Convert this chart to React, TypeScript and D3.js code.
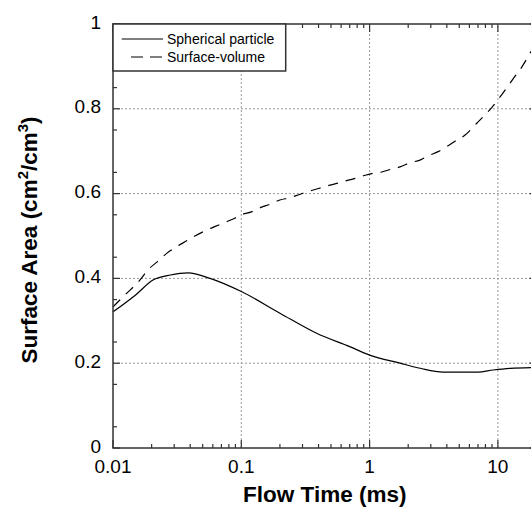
import React from "react";
import * as d3 from "d3";

const sphericalTime = [0.01, 0.015, 0.0205, 0.028, 0.0385, 0.057, 0.1, 0.2, 0.39, 0.7, 1, 1.73, 2.48, 3.74, 7, 9.2, 12.5, 20];
const sphericalArea = [0.321, 0.361, 0.396, 0.408, 0.413, 0.4, 0.369, 0.318, 0.27, 0.239, 0.219, 0.2, 0.188, 0.179, 0.179, 0.184, 0.188, 0.19];

const surfaceTime = [0.01, 0.0125, 0.016, 0.019, 0.0221, 0.0262, 0.0314, 0.0372, 0.0435, 0.052, 0.062, 0.077, 0.089, 0.1, 0.12, 0.144, 0.168, 0.2, 0.237, 0.284, 0.333, 0.4, 0.464, 0.555, 0.652, 0.77, 0.895, 1.06, 1.245, 1.49, 1.73, 2.07, 2.47, 2.86, 3.42, 4.0, 4.78, 5.55, 6.85, 7.27, 8.96, 10.7, 13.1, 15.4, 17.8, 20];
const surfaceArea = [0.333, 0.362, 0.394, 0.422, 0.439, 0.459, 0.475, 0.488, 0.5, 0.512, 0.522, 0.534, 0.542, 0.55, 0.557, 0.568, 0.575, 0.585, 0.59, 0.598, 0.605, 0.612, 0.618, 0.624, 0.63, 0.636, 0.642, 0.648, 0.651, 0.658, 0.663, 0.673, 0.679, 0.689, 0.699, 0.711, 0.726, 0.738, 0.766, 0.774, 0.803, 0.833, 0.87, 0.899, 0.931, 0.956];

const xMajorTicks = [0.01, 0.1, 1, 10];
const xTickLabels = ["0.01", "0.1", "1", "10"];
const yMajorTicks = [0, 0.2, 0.4, 0.6, 0.8, 1];
const yTickLabels = ["0", "0.2", "0.4", "0.6", "0.8", "1"];
const seriesNames = ["Spherical particle", "Surface-volume"];

const W = 531;
const H = 508;
const L = 113, R = 536.5, T = 24, B = 448;
const FONT = "'Liberation Sans', Arial, sans-serif";
const AXIS = "#333";

export default function App() {
  const x = d3.scaleLog().domain([0.01, 20]).range([L, R]);
  const y = d3.scaleLinear().domain([0, 1]).range([B, T]);

  const line = d3
    .line<[number, number]>()
    .x((d) => x(d[0]))
    .y((d) => y(d[1]))
    .curve(d3.curveMonotoneX);

  const sph = line(sphericalTime.map((t, i) => [t, sphericalArea[i]] as [number, number])) || "";
  const sur = line(surfaceTime.map((t, i) => [t, surfaceArea[i]] as [number, number])) || "";

  const xMinor: number[] = [];
  for (const dec of [0.01, 0.1, 1, 10]) {
    for (let k = 2; k <= 9; k++) {
      const v = dec * k;
      if (v <= 20) xMinor.push(v);
    }
  }
  const yMinor = d3.range(0.05, 1, 0.1).map((v) => +v.toFixed(2));

  return (
    <svg width={W} height={H} style={{ position: "absolute", left: 0, top: 0, background: "#fff" }}>
      <rect x={0} y={0} width={W} height={H} fill="#fff" />
      {xMajorTicks.slice(1).map((v) => (
        <line key={"gx" + v} x1={x(v)} x2={x(v)} y1={B} y2={T} stroke="#999" strokeDasharray="2,2" strokeWidth={1} />
      ))}
      {yMajorTicks.slice(1, 5).map((v) => (
        <line key={"gy" + v} x1={L} x2={R} y1={y(v)} y2={y(v)} stroke="#999" strokeDasharray="2,2" strokeWidth={1} />
      ))}
      <path d={sph} fill="none" stroke="#000" strokeWidth={1.2} />
      <path d={sur} fill="none" stroke="#000" strokeWidth={1.2} strokeDasharray="10,8" />
      {xMajorTicks.map((v) => (
        <g key={"xt" + v}>
          <line x1={x(v)} x2={x(v)} y1={B} y2={B - 8} stroke={AXIS} strokeWidth={1.2} />
          <line x1={x(v)} x2={x(v)} y1={T} y2={T + 8} stroke={AXIS} strokeWidth={1.2} />
        </g>
      ))}
      {xMinor.map((v) => (
        <g key={"xm" + v}>
          <line x1={x(v)} x2={x(v)} y1={B} y2={B - 4} stroke={AXIS} strokeWidth={1.2} />
          <line x1={x(v)} x2={x(v)} y1={T} y2={T + 4} stroke={AXIS} strokeWidth={1.2} />
        </g>
      ))}
      {yMajorTicks.map((v) => (
        <g key={"yt" + v}>
          <line x1={L} x2={L + 7} y1={y(v)} y2={y(v)} stroke={AXIS} strokeWidth={1.2} />
          <line x1={R} x2={R - 7} y1={y(v)} y2={y(v)} stroke={AXIS} strokeWidth={1.2} />
        </g>
      ))}
      {yMinor.map((v) => (
        <g key={"ym" + v}>
          <line x1={L} x2={L + 4} y1={y(v)} y2={y(v)} stroke={AXIS} strokeWidth={1.2} />
          <line x1={R} x2={R - 4} y1={y(v)} y2={y(v)} stroke={AXIS} strokeWidth={1.2} />
        </g>
      ))}
      <rect x={L} y={T} width={R - L} height={B - T} fill="none" stroke={AXIS} strokeWidth={1.5} />
      {xMajorTicks.map((v, i) => (
        <text key={"xl" + v} x={x(v)} y={B + 24.7} textAnchor="middle" fontFamily={FONT} fontSize={19} fill="#000">
          {xTickLabels[i]}
        </text>
      ))}
      {yMajorTicks.map((v, i) => (
        <text key={"yl" + v} x={L - 12} y={y(v) + 4.5} textAnchor="end" fontFamily={FONT} fontSize={19} fill="#000">
          {yTickLabels[i]}
        </text>
      ))}
      <rect x={L} y={T} width={285.7 - L} height={71 - T} fill="#fff" stroke={AXIS} strokeWidth={1.5} />
      <line x1={121.7} x2={163} y1={39} y2={39} stroke="#000" strokeWidth={1.2} />
      <line x1={131} x2={163} y1={57} y2={57} stroke="#000" strokeWidth={1.2} strokeDasharray="12,7" />
      <text x={167} y={44} fontFamily={FONT} fontSize={14} fill="#000">{seriesNames[0]}</text>
      <text x={167} y={62} fontFamily={FONT} fontSize={14} fill="#000">{seriesNames[1]}</text>
      <text x={(L + R) / 2} y={502} textAnchor="middle" fontFamily={FONT} fontSize={22.5} fontWeight="bold" fill="#000">
        Flow Time (ms)
      </text>
      <text
        transform={`translate(37, ${(T + B) / 2 + 4}) rotate(-90)`}
        textAnchor="middle"
        fontFamily={FONT}
        fontSize={22.5}
        fontWeight="bold"
        fill="#000"
      >
        Surface Area (cm<tspan fontSize={15} dy={-9}>2</tspan>
        <tspan dy={9}>/cm</tspan>
        <tspan fontSize={15} dy={-9}>3</tspan>
        <tspan dy={9}>)</tspan>
      </text>
    </svg>
  );
}
